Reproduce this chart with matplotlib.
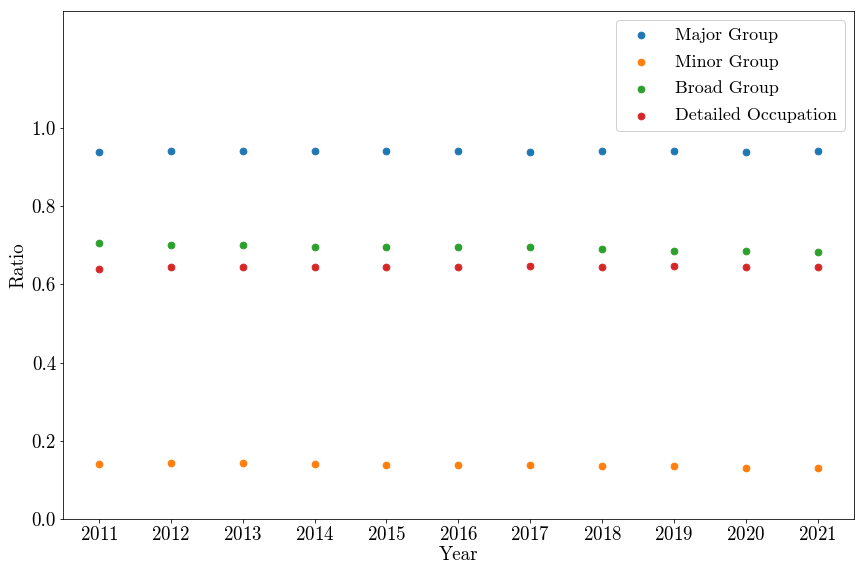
"""Ratio of matched occupation codes per SOC aggregation level, 2011-2021."""

import matplotlib

matplotlib.use("Agg")
import matplotlib.pyplot as plt

plt.rcParams.update({
    "font.family": "serif",
    "font.serif": ["cmr10", "DejaVu Serif"],
    "mathtext.fontset": "cm",
    "axes.formatter.use_mathtext": True,
    "axes.unicode_minus": False,
})

YEARS = [2011, 2012, 2013, 2014, 2015, 2016, 2017, 2018, 2019, 2020, 2021]
MAJOR = [0.938, 0.941, 0.941, 0.941, 0.941, 0.941, 0.938, 0.941, 0.941, 0.938, 0.941]
MINOR = [0.140, 0.142, 0.142, 0.140, 0.137, 0.137, 0.137, 0.135, 0.135, 0.130, 0.130]
BROAD = [0.705, 0.702, 0.700, 0.697, 0.697, 0.695, 0.695, 0.692, 0.687, 0.687, 0.682]
DETAILED = [0.639, 0.644, 0.644, 0.644, 0.644, 0.644, 0.647, 0.644, 0.647, 0.644, 0.644]

SERIES = [
    ("Major Group", MAJOR, "#1f77b4"),
    ("Minor Group", MINOR, "#ff7f0e"),
    ("Broad Group", BROAD, "#2ca02c"),
    ("Detailed Occupation", DETAILED, "#d62728"),
]


def main() -> None:
    fig, ax = plt.subplots(figsize=(12, 8), dpi=72)
    for label, values, color in SERIES:
        ax.scatter(YEARS, values, s=45, color=color, label=label, zorder=3)

    ax.set_xlim(2010.5, 2021.5)
    ax.set_ylim(0, 1.3)
    ax.set_xticks(YEARS)
    ax.set_yticks([0.0, 0.2, 0.4, 0.6, 0.8, 1.0])
    ax.set_yticklabels(["0.0", "0.2", "0.4", "0.6", "0.8", "1.0"])
    ax.tick_params(labelsize=19)
    ax.set_xlabel("Year", fontsize=19, labelpad=2)
    ax.set_ylabel("Ratio", fontsize=19)
    ax.legend(loc="upper right", fontsize=18, framealpha=0.9,
              labelspacing=0.62, handletextpad=0.9)

    fig.subplots_adjust(left=0.073, right=0.988, top=0.981, bottom=0.099)
    fig.savefig("out.png", dpi=72)
    plt.close(fig)


if __name__ == "__main__":
    main()
